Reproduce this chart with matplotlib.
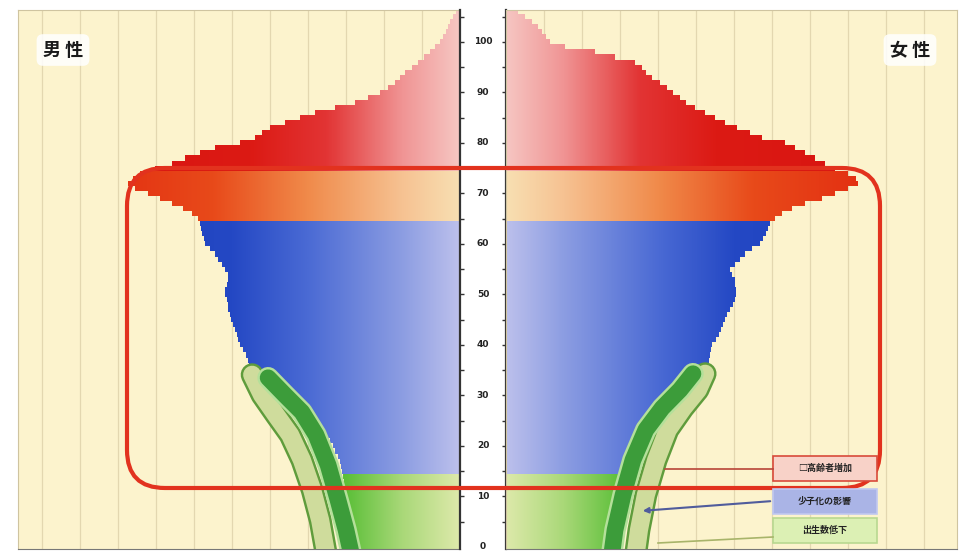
import matplotlib.pyplot as plt
import matplotlib.patheffects as pe
import numpy as np
from matplotlib.colors import LinearSegmentedColormap
from matplotlib.patches import Polygon, FancyBboxPatch, Rectangle

plt.rcParams['font.family'] = ['Noto Sans CJK JP', 'DejaVu Sans']

# single-year ages 0..106, width of each bar per sex
ages = np.arange(0, 107)
male = [27.6, 28.2, 28.4, 28.7, 28.9, 29.2, 29.5, 29.5, 29.7, 30.0,
        30.3, 30.3, 30.5, 30.5, 30.8, 31.1, 31.3, 31.6, 32.1, 32.9,
        33.4, 34.2, 35.3, 36.3, 37.6, 39.5, 41.3, 42.9, 44.7, 46.8,
        48.7, 50.5, 52.1, 53.7, 54.7, 55.3, 55.5, 55.8, 56.3, 57.1,
        57.9, 58.4, 58.7, 59.2, 59.7, 60.3, 60.5, 61.1, 61.1, 61.3,
        61.8, 61.8, 61.3, 61.1, 61.1, 61.8, 62.6, 63.7, 64.5, 65.8,
        67.1, 67.4, 67.9, 68.2, 68.4, 68.9, 70.5, 72.9, 75.8, 78.9,
        82.1, 85.5, 87.4, 86.1, 84.2, 80.3, 75.8, 72.4, 68.4, 64.5,
        57.9, 53.9, 52.1, 50.0, 46.1, 42.1, 38.2, 32.9, 27.6, 24.2,
        21.1, 18.9, 17.1, 15.8, 14.5, 12.6, 11.1, 9.5, 7.9, 6.6,
        5.3, 4.5, 3.7, 3.2, 2.6, 1.8, 1.1]
female = [28.4, 28.4, 28.7, 28.7, 28.9, 28.9, 29.2, 29.5, 29.7, 30.0,
          30.3, 30.5, 30.8, 31.1, 31.3, 32.1, 32.6, 33.4, 33.9, 34.7,
          35.3, 36.1, 36.6, 37.1, 37.9, 39.2, 40.5, 41.8, 43.2, 44.5,
          45.8, 47.4, 48.9, 50.5, 51.6, 52.4, 52.9, 53.4, 53.7, 53.9,
          54.2, 55.3, 56.1, 56.6, 57.1, 57.6, 58.2, 58.9, 59.7, 60.3,
          60.5, 60.5, 60.3, 60.3, 59.5, 58.9, 60.3, 61.6, 62.9, 64.7,
          66.8, 67.6, 68.4, 68.9, 69.5, 70.8, 72.6, 75.3, 78.7, 83.2,
          86.6, 90.0, 92.6, 92.1, 90.0, 86.6, 83.9, 81.3, 78.7, 76.1,
          73.4, 67.4, 64.2, 60.8, 57.6, 55.0, 52.4, 49.7, 47.4, 45.8,
          43.9, 42.4, 40.5, 38.4, 36.8, 35.8, 33.9, 28.7, 23.4, 15.5,
          11.6, 10.5, 9.5, 8.4, 6.8, 5.0, 3.2]

# age groups: (first age, last age, colour stops from the centre line outward)
bands = [
    (0, 14, [(0.00, '#dde9aa'), (0.15, '#a9d878'), (0.30, '#5bbf38'), (1.00, '#4fb82e')]),
    (15, 64, [(0.00, '#bcc0ec'), (0.15, '#8c9de2'), (0.40, '#4a6ad4'), (0.60, '#2448c4'), (1.00, '#1c40bc')]),
    (65, 74, [(0.00, '#f8dfb2'), (0.15, '#f6c292'), (0.40, '#f08a4a'), (0.65, '#e84a1a'), (1.00, '#e22a10')]),
    (75, 106, [(0.00, '#f6c6c2'), (0.15, '#f09494'), (0.35, '#e23434'), (0.55, '#dc1a14'), (1.00, '#d81410')]),
]

age_ticks = np.arange(0, 101, 10)

# ribbons over the young ages (age, width)
rib_pale_m_age = [34.1, 30.1, 26.1, 22.2, 17.2, 11.3, 5.3, -1.0]
rib_pale_m_w = [54.7, 52.1, 48.4, 44.7, 41.6, 38.9, 36.8, 35.3]
rib_dark_m_age = [33.5, 30.1, 26.7, 22.2, 16.2, 9.3, 3.4, -1.0]
rib_dark_m_w = [50.5, 46.1, 41.6, 37.9, 34.7, 32.1, 30.0, 28.7]
rib_pale_f_age = [34.3, 31.1, 27.5, 23.2, 17.2, 10.3, 3.4, -1.0]
rib_pale_f_w = [52.4, 50.5, 46.6, 42.6, 39.5, 36.8, 35.0, 34.2]
rib_dark_f_age = [34.3, 31.1, 27.5, 23.2, 17.2, 10.3, 3.4, -1.0]
rib_dark_f_w = [49.2, 45.8, 41.1, 36.8, 33.4, 30.8, 28.7, 27.9]

legend_labels = ['□高齢者増加', '少子化の影響', '出生数低下']

BEIGE = '#fcf3cd'
YLIM = (-0.4, 106.3)

fig = plt.figure(figsize=(9.69, 5.52), dpi=100)
fig.patch.set_facecolor('white')

ax_l = fig.add_axes([18 / 969, 3 / 552, 442 / 969, 539 / 552])
ax_m = fig.add_axes([460 / 969, 3 / 552, 46 / 969, 539 / 552])
ax_r = fig.add_axes([506 / 969, 3 / 552, 451 / 969, 539 / 552])


def step_outline(a, w):
    verts = [(0, a[0] - 0.5)]
    for age, width in zip(a, w):
        verts += [(width, age - 0.5), (width, age + 0.5)]
    verts.append((0, a[-1] + 0.5))
    return verts


def draw_side(ax, widths, xmax):
    ax.set_facecolor(BEIGE)
    for gx in np.arange(10, xmax, 10):
        ax.axvline(gx, color='#e3d7b0', lw=0.9, zorder=1)
    w = np.array(widths)
    for lo, hi, stops in bands:
        sel = (ages >= lo) & (ages <= hi)
        poly = Polygon(step_outline(ages[sel], w[sel]), closed=True,
                       transform=ax.transData, fc='none', ec='none')
        ax.add_patch(poly)
        cmap = LinearSegmentedColormap.from_list('band', stops)
        xs = np.linspace(0, xmax, 600)
        img = cmap(np.clip(xs / 100, 0, 1))[None, :, :]
        im = ax.imshow(img, extent=[0, xmax, ages[sel][0] - 0.5, ages[sel][-1] + 0.5],
                       aspect='auto', origin='lower', interpolation='bilinear', zorder=2)
        im.set_clip_path(poly)
    ax.set_ylim(*YLIM)
    ax.set_xticks([])
    ax.set_yticks([])
    for s in ax.spines.values():
        s.set_color('#cfc4a0')
        s.set_linewidth(0.8)
    ax.spines['bottom'].set_color('#777777')


def ribbon(ax, a, w, fill, edge, lw):
    ax.plot(w, a, color=fill, lw=lw, solid_capstyle='round', solid_joinstyle='round', zorder=4,
            path_effects=[pe.Stroke(linewidth=lw + 3.5, foreground=edge), pe.Normal()])


xmax_l = 442 / 3.8
xmax_r = 451 / 3.8
draw_side(ax_l, male, xmax_l)
draw_side(ax_r, female, xmax_r)
ax_l.set_xlim(xmax_l, 0)
ax_r.set_xlim(0, xmax_r)

ribbon(ax_l, rib_pale_m_age, rib_pale_m_w, '#cfdc9c', '#5f9c3c', 13)
ribbon(ax_l, rib_dark_m_age, rib_dark_m_w, '#3c9c3a', '#b4e09a', 12)
ribbon(ax_r, rib_pale_f_age, rib_pale_f_w, '#cfdc9c', '#5f9c3c', 13)
ribbon(ax_r, rib_dark_f_age, rib_dark_f_w, '#3c9c3a', '#b4e09a', 12)

# centre column with the age scale
ax_m.set_facecolor('white')
ax_m.set_xlim(0, 1)
ax_m.set_ylim(*YLIM)
ax_m.set_xticks([])
ax_m.set_yticks(np.arange(5, 106, 5))
ax_m.set_yticklabels([])
ax_m.tick_params(axis='y', which='both', left=True, right=True, direction='in',
                 length=3, width=1, color='#333333')
for side in ['top', 'bottom']:
    ax_m.spines[side].set_visible(False)
for side in ['left', 'right']:
    ax_m.spines[side].set_color('#333333')
    ax_m.spines[side].set_linewidth(1.6)
for t in age_ticks:
    ax_m.text(0.5, t, str(t), ha='center', va='center', fontsize=6.5,
              fontweight='bold', color='#222222', family='DejaVu Sans')

# overlay in pixel units for annotations
ov = fig.add_axes([0, 0, 1, 1], zorder=10)
ov.set_xlim(0, 969)
ov.set_ylim(552, 0)
ov.axis('off')
ov.patch.set_alpha(0)

ov.add_patch(FancyBboxPatch((127, 168), 753, 320, boxstyle='round,pad=0,rounding_size=38',
                            ec='#e2321e', fc='none', lw=3))

for x, label in [(63, '男 性'), (910, '女 性')]:
    ov.text(x, 50, label, ha='center', va='center', fontsize=13, fontweight='bold',
            color='#1a1a1a',
            bbox=dict(boxstyle='round,pad=0.35', fc='white', ec='none', alpha=0.85))

box_y = [456, 489, 518]
box_fc = ['#f8d2c8', '#aab4e6', '#dcf0b4']
box_ec = ['#d84a3a', '#c0c8f0', '#b8d890']
for y, label, fc, ec in zip(box_y, legend_labels, box_fc, box_ec):
    ov.add_patch(Rectangle((773, y), 104, 25, fc=fc, ec=ec, lw=1.2))
    ov.text(825, y + 12.5, label, ha='center', va='center', fontsize=6.5,
            fontweight='bold', color='#222222')

ov.plot([665, 773], [469, 469], color='#b84438', lw=1.2)
ov.annotate('', xy=(640, 511), xytext=(773, 501),
            arrowprops=dict(arrowstyle='-|>', color='#505c9c', lw=1.5, mutation_scale=8))
ov.plot([658, 773], [543, 537], color='#a8b46a', lw=1.2)

plt.savefig('out.png', dpi=100)
